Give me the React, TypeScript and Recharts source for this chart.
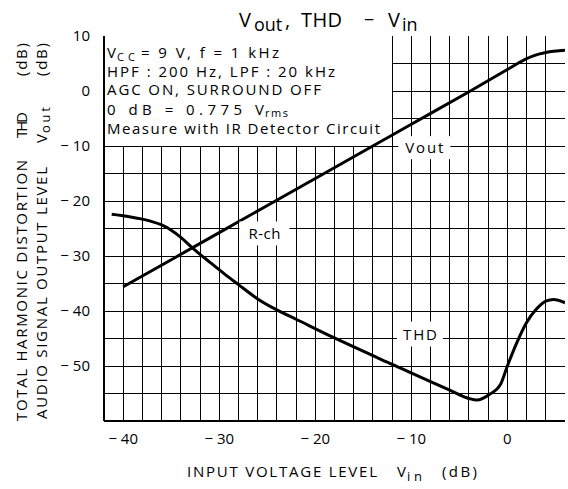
import React from 'react';
import {
  LineChart,
  Line,
  XAxis,
  YAxis,
  ReferenceArea,
  ReferenceDot,
  ReferenceLine,
  Customized,
} from 'recharts';

// ---- data ----
const voutVin = [-40, -30, -20, -10, -3.85, 0, 1.9, 2.7, 4, 6];
const voutLevel = [-35.6, -25.75, -15.9, -6.05, 0, 3.9, 5.8, 6.4, 7.0, 7.4];

const thdVin = [
  -41.2, -39.5, -38, -37, -36, -35, -34, -33, -32, -31, -29.5, -28, -26, -24, -22, -18, -12,
  -6, -4, -3.2, -1.8, -0.7, 0, 1, 2, 3, 4, 4.8, 6,
];
const thdLevel = [
  -22.4, -22.8, -23.3, -23.75, -24.35, -25.3, -26.6, -28.2, -29.7, -31.1, -33.2, -35.2, -37.8,
  -39.8, -41.5, -44.9, -49.7, -54.4, -55.9, -56.2, -55.1, -53.3, -50, -45.7, -42.1, -39.7,
  -38.2, -37.9, -38.5,
];

const xTicks = [-40, -30, -20, -10, 0];
const yTicks = [10, 0, -10, -20, -30, -40, -50];
const xGridValues = [-40, -38, -36, -34, -32, -30, -28, -26, -24, -22, -20, -18, -16, -14, -12, -10, -8, -6, -4, -2, 0, 2, 4];
const yGridValues = [5, 0, -5, -10, -15, -20, -25, -30, -35, -40, -45, -50, -55];
const xDomain = [-42, 6];
const yDomain = [-60, 10];

// annotation box (condition notes) occupies this region of the grid
const noteBox = { x1: -42, x2: -12, y1: -10, y2: 10 };

const seriesLabels = [
  { name: 'Vout', x: -8.65, y: -10.3, w: 52, h: 23, len: 38 },
  { name: 'R-ch', x: -25.3, y: -25.9, w: 50, h: 24, len: 32 },
  { name: 'THD', x: -9.1, y: -44.2, w: 46, h: 25, len: 34 },
];

const voutData = voutVin.map((x, i) => ({ x, y: voutLevel[i] }));
const thdData = thdVin.map((x, i) => ({ x, y: thdLevel[i] }));

const FONT = "'Open Sans', 'DejaVu Sans', sans-serif";

const fmt = (v: number) => (v < 0 ? `\u2212 ${Math.abs(v)}` : `${v}`);

const BoxText = (props: any) => {
  const vb = props.viewBox || {};
  const x = vb.x + 3;
  const y = vb.y;
  const fs = 15;
  const sub = 11;
  return (
    <g fontFamily={FONT} fontSize={fs} fill="#000">
      <text x={x} y={y + 22}>V</text>
      <text x={x + 10} y={y + 25} fontSize={sub} textLength={18} lengthAdjust="spacing">CC</text>
      <text x={x + 34} y={y + 22} textLength={138} lengthAdjust="spacing">= 9 V, f = 1 kHz</text>
      <text x={x} y={y + 40.5} textLength={228} lengthAdjust="spacing">HPF : 200 Hz, LPF : 20 kHz</text>
      <text x={x} y={y + 59} textLength={214} lengthAdjust="spacing">AGC ON, SURROUND OFF</text>
      <text x={x} y={y + 78.5} textLength={157} lengthAdjust="spacing">0 dB = 0.775 V</text>
      <text x={x + 158} y={y + 81} fontSize={sub} textLength={23} lengthAdjust="spacing">rms</text>
      <text x={x} y={y + 97.5} textLength={273} lengthAdjust="spacing">Measure with IR Detector Circuit</text>
    </g>
  );
};

const makeTag = (name: string, w: number, h: number, len: number) => (p: any) => (
  <g>
    <rect x={p.cx - w / 2} y={p.cy - h / 2} width={w} height={h} fill="#fff" />
    <text
      x={p.cx - len / 2}
      y={p.cy + 5.5}
      fontFamily={FONT}
      fontSize={15}
      fill="#000"
      textLength={len}
      lengthAdjust="spacing"
    >
      {name}
    </text>
  </g>
);

const Decorations = () => (
  <g fontFamily={FONT} fill="#000">
    {/* title */}
    <text x={239} y={27} fontSize={20}>V</text>
    <text x={254} y={31} fontSize={18}>out</text>
    <text x={285} y={27} fontSize={20}>,</text>
    <text x={301} y={27} fontSize={20} textLength={41} lengthAdjust="spacing">THD</text>
    <text x={364} y={26} fontSize={18}>{'\u2212'}</text>
    <text x={388} y={27} fontSize={20}>V</text>
    <text x={402} y={31} fontSize={18}>in</text>
    {/* x axis label */}
    <text x={187} y={477} fontSize={15} textLength={190} lengthAdjust="spacing">INPUT VOLTAGE LEVEL</text>
    <text x={397} y={477} fontSize={15}>V</text>
    <text x={407} y={481} fontSize={13} textLength={15} lengthAdjust="spacing">in</text>
    <text x={442} y={477} fontSize={15} textLength={35} lengthAdjust="spacing">(dB)</text>
    {/* y axis labels, rotated */}
    <g transform="translate(27,0) rotate(-90)" fontSize={15}>
      <text x={-421} y={0} textLength={261} lengthAdjust="spacing">TOTAL HARMONIC DISTORTION</text>
      <text x={-138} y={0} textLength={26} lengthAdjust="spacing">THD</text>
      <text x={-76} y={0} textLength={33} lengthAdjust="spacing">(dB)</text>
    </g>
    <g transform="translate(47,0) rotate(-90)" fontSize={15}>
      <text x={-419} y={0} textLength={252} lengthAdjust="spacing">AUDIO SIGNAL OUTPUT LEVEL</text>
      <text x={-143} y={0}>V</text>
      <text x={-133} y={3} fontSize={13} textLength={26} lengthAdjust="spacing">out</text>
      <text x={-76} y={0} textLength={33} lengthAdjust="spacing">(dB)</text>
    </g>
  </g>
);

export default function App() {
  return (
    <div style={{ position: 'absolute', left: 0, top: 0, background: '#fff' }}>
      <style>{`
        .recharts-reference-line line { shape-rendering: crispEdges; }
        .recharts-cartesian-axis-line { shape-rendering: crispEdges; }
      `}</style>
      <LineChart
        width={568}
        height={489}
        margin={{ top: 36, right: 3, bottom: 38, left: 0 }}
      >
        <ReferenceArea
          x1={noteBox.x1}
          x2={noteBox.x2}
          y1={noteBox.y1}
          y2={noteBox.y2}
          fill="#fff"
          fillOpacity={0}
          stroke="none"
          label={(p: any) => <BoxText {...p} />}
        />
        {xGridValues.map((v) => (
          <ReferenceLine
            key={`gx${v}`}
            segment={[
              { x: v, y: yDomain[0] },
              { x: v, y: v < noteBox.x2 ? noteBox.y1 : yDomain[1] },
            ]}
            stroke="#000"
            strokeWidth={1}
          />
        ))}
        {yGridValues.map((v) => (
          <ReferenceLine
            key={`gy${v}`}
            segment={[
              { x: v > noteBox.y1 ? noteBox.x2 : xDomain[0], y: v },
              { x: xDomain[1], y: v },
            ]}
            stroke="#000"
            strokeWidth={1}
          />
        ))}
        <XAxis
          type="number"
          dataKey="x"
          domain={xDomain}
          ticks={xTicks}
          tickFormatter={fmt}
          allowDataOverflow
          height={30}
          tickLine={false}
          axisLine={{ stroke: '#000', strokeWidth: 2 }}
          tickMargin={6}
          tick={{ fill: '#000', fontSize: 15, fontFamily: FONT }}
        />
        <XAxis
          xAxisId="top"
          orientation="top"
          type="number"
          domain={xDomain}
          allowDataOverflow
          height={0}
          tick={false}
          tickLine={false}
          axisLine={{ stroke: '#000', strokeWidth: 2 }}
        />
        <YAxis
          type="number"
          dataKey="y"
          domain={yDomain}
          ticks={yTicks}
          tickFormatter={fmt}
          allowDataOverflow
          width={104}
          tickLine={false}
          axisLine={{ stroke: '#000', strokeWidth: 2 }}
          tickMargin={8}
          tick={{ fill: '#000', fontSize: 15, fontFamily: FONT }}
        />
        <YAxis
          yAxisId="right"
          orientation="right"
          type="number"
          domain={yDomain}
          allowDataOverflow
          width={0}
          tick={false}
          tickLine={false}
          axisLine={{ stroke: '#000', strokeWidth: 2 }}
        />
        <Line
          data={voutData}
          dataKey="y"
          type="monotone"
          stroke="#000"
          strokeWidth={3}
          dot={false}
          isAnimationActive={false}
        />
        <Line
          data={thdData}
          dataKey="y"
          type="monotone"
          stroke="#000"
          strokeWidth={3}
          dot={false}
          isAnimationActive={false}
        />
        {seriesLabels.map((l) => (
          <ReferenceDot
            key={l.name}
            x={l.x}
            y={l.y}
            r={1}
            shape={makeTag(l.name, l.w, l.h, l.len)}
          />
        ))}
        <Customized component={Decorations} />
      </LineChart>
    </div>
  );
}
